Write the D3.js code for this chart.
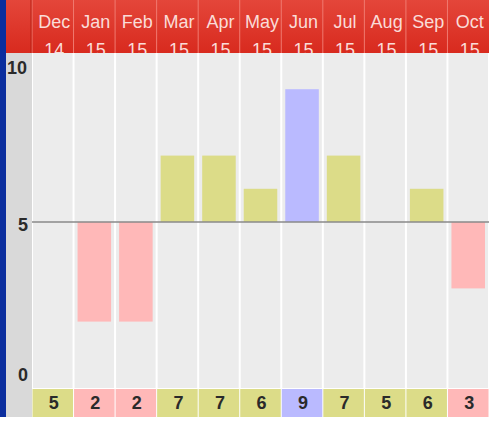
<!DOCTYPE html>
<html><head><meta charset="utf-8">
<script src="https://cdn.jsdelivr.net/npm/d3@7"></script>
<style>body{margin:0;background:#fff}svg{display:block}</style>
</head><body><div id="c"></div>
<script>
const months = ["Dec","Jan","Feb","Mar","Apr","May","Jun","Jul","Aug","Sep","Oct"];
const years = ["14","15","15","15","15","15","15","15","15","15","15"];
const values = [5,2,2,7,7,6,9,7,5,6,3];
const yTicks = [0,5,10];
const baseline = 5;

const W = 489, H = 421;
const left = 32, right = 489, headerH = 53;
const FONT = "Liberation Sans, Arial, sans-serif";
const svg = d3.select("#c").append("svg").attr("width", W).attr("height", H);
const defs = svg.append("defs");
const g1 = defs.append("linearGradient").attr("id","hdr").attr("x1",0).attr("x2",0).attr("y1",0).attr("y2",1);
g1.append("stop").attr("offset","0").attr("stop-color","#e4463a");
g1.append("stop").attr("offset","1").attr("stop-color","#d82a1e");
defs.append("clipPath").attr("id","hclip").append("rect").attr("x",0).attr("y",0).attr("width",W).attr("height",headerH);

const x = d3.scaleBand().domain(d3.range(months.length)).range([left, right]).paddingInner(0).paddingOuter(0);
const y = d3.scaleLinear().domain([0,10]).range([388, 56]);
const color = d3.scaleThreshold().domain([5, 9]).range(["#ffb8b8","#dcdc88","#babaff"]);

// left blue stripe and axis column
svg.append("rect").attr("x",0).attr("y",0).attr("width",6).attr("height",417).attr("fill","#0b2e9e");
svg.append("rect").attr("x",6).attr("y",headerH).attr("width",left-6).attr("height",417-headerH).attr("fill","#d9d9d9");

// column backgrounds
svg.selectAll(".col").data(values).join("rect")
  .attr("x",(d,i)=>x(i)+1).attr("y",headerH).attr("width",x.bandwidth()-2).attr("height",388-headerH)
  .attr("fill","#ececec");

// header
svg.append("rect").attr("x",6).attr("y",0).attr("width",W-6).attr("height",headerH).attr("fill","url(#hdr)");
svg.selectAll(".hsep").data(values).join("line")
  .attr("x1",(d,i)=>x(i)).attr("x2",(d,i)=>x(i)).attr("y1",0).attr("y2",headerH)
  .attr("stroke","#f07a70").attr("stroke-width",1);
svg.append("line").attr("x1",left-1).attr("x2",left-1).attr("y1",0).attr("y2",headerH).attr("stroke","#b82014");
const ht = svg.append("g").attr("clip-path","url(#hclip)");
ht.selectAll(".m").data(months).join("text")
  .attr("x",(d,i)=>x(i)+x.bandwidth()/2+1.5).attr("y",28).attr("text-anchor","middle")
  .attr("font-family",FONT).attr("font-size",18)
  .attr("fill","#fadcd8").text(d=>d);
ht.selectAll(".yr").data(years).join("text")
  .attr("x",(d,i)=>x(i)+x.bandwidth()/2+1.5).attr("y",56).attr("text-anchor","middle")
  .attr("font-family",FONT).attr("font-size",18)
  .attr("fill","#fadcd8").text(d=>d);

// bars
const inset = 4;
svg.selectAll(".bar").data(values).join("rect")
  .attr("x",(d,i)=>x(i)+inset).attr("width",x.bandwidth()-2*inset)
  .attr("y",d=>Math.min(y(d),y(baseline)))
  .attr("height",d=>Math.abs(y(d)-y(baseline)))
  .attr("fill",d=>color(d));

// baseline line
svg.append("line").attr("x1",left).attr("x2",right).attr("y1",y(baseline)).attr("y2",y(baseline))
  .attr("stroke","#8a8a8a").attr("stroke-width",1.5);

// y labels
const labOff = {0:-13, 5:3, 10:12};
svg.selectAll(".yl").data(yTicks).join("text")
  .attr("x",d=>d===10?7:18).attr("y",d=>y(d)+labOff[d]+6)
  .attr("font-family",FONT).attr("font-size",18).attr("font-weight","bold")
  .attr("fill","#2a2a2a").text(d=>d);

// bottom value cells
svg.selectAll(".cell").data(values).join("rect")
  .attr("x",(d,i)=>x(i)+0.5).attr("y",389).attr("width",x.bandwidth()-1).attr("height",28)
  .attr("fill",d=>color(d));
svg.selectAll(".cv").data(values).join("text")
  .attr("x",(d,i)=>x(i)+x.bandwidth()/2+1).attr("y",409).attr("text-anchor","middle")
  .attr("font-family",FONT).attr("font-size",18).attr("font-weight","bold")
  .attr("fill","#2a2a2a").text(d=>d);
</script></body></html>
